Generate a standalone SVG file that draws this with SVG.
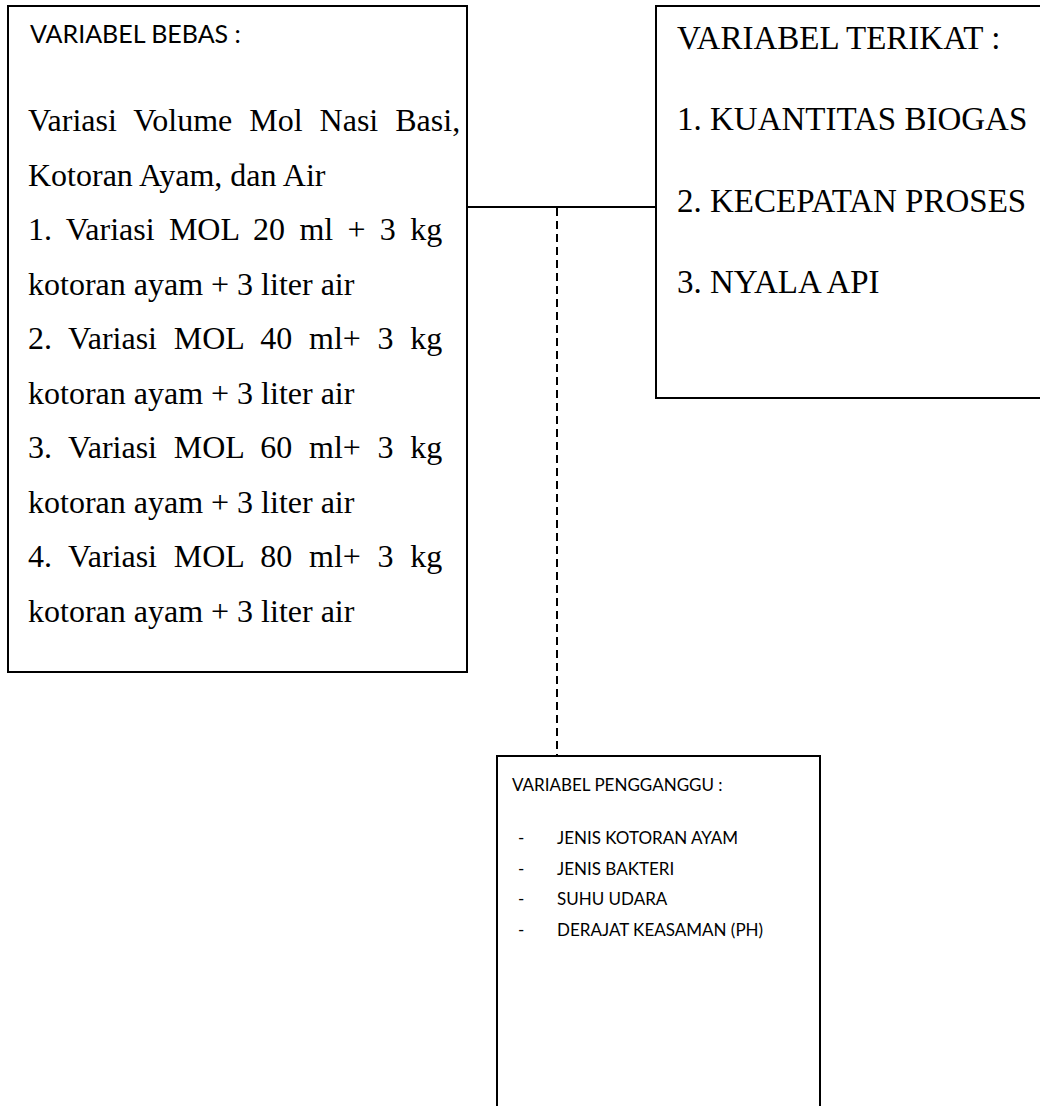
<svg xmlns="http://www.w3.org/2000/svg" width="1040" height="1106" viewBox="0 0 1040 1106">
<style>
.box{fill:#fff;stroke:#000;stroke-width:2}
.serif{font-family:"Liberation Serif","Times New Roman",serif;font-size:32px;fill:#000}
.serif2{font-family:"Liberation Serif","Times New Roman",serif;font-size:33px;fill:#000}
.sans{font-family:Lato,"Open Sans",sans-serif;fill:#000}
.small{font-size:17px}
.conn{stroke:#000;stroke-width:2;fill:none}
.dash{stroke:#000;stroke-width:2;fill:none;stroke-dasharray:8 5}
</style>
<rect width="1040" height="1106" fill="#fff"/>
<g id="connectors">
<line class="conn" x1="467" y1="207" x2="656" y2="207"/>
<line class="dash" x1="557" y1="208" x2="557" y2="756"/>
</g>
<g id="variabel-bebas">
<rect class="box" x="8" y="6" width="459" height="666"/>
<text class="sans" x="30" y="43" font-size="25">VARIABEL BEBAS :</text>
<text class="serif" x="28" y="131" word-spacing="9">Variasi Volume Mol Nasi Basi,</text>
<text class="serif" x="28" y="185.5">Kotoran Ayam, dan Air</text>
<text class="serif" x="28" y="240" word-spacing="6.3">1. Variasi MOL 20 ml + 3 kg</text>
<text class="serif" x="28" y="294.5">kotoran ayam + 3 liter air</text>
<text class="serif" x="28" y="349" word-spacing="8.7">2. Variasi MOL 40 ml+ 3 kg</text>
<text class="serif" x="28" y="403.5">kotoran ayam + 3 liter air</text>
<text class="serif" x="28" y="458" word-spacing="8.7">3. Variasi MOL 60 ml+ 3 kg</text>
<text class="serif" x="28" y="512.5">kotoran ayam + 3 liter air</text>
<text class="serif" x="28" y="567" word-spacing="8.7">4. Variasi MOL 80 ml+ 3 kg</text>
<text class="serif" x="28" y="621.5">kotoran ayam + 3 liter air</text>
</g>
<g id="variabel-terikat">
<rect class="box" x="656" y="6" width="400" height="392"/>
<text class="serif2" x="677" y="49">VARIABEL TERIKAT :</text>
<text class="serif2" x="677" y="130">1. KUANTITAS BIOGAS</text>
<text class="serif2" x="677" y="212">2. KECEPATAN PROSES</text>
<text class="serif2" x="677" y="293">3. NYALA API</text>
</g>
<g id="variabel-pengganggu">
<path class="box" d="M497 1110 V756 H820 V1110"/>
<text class="sans small" x="512" y="791">VARIABEL PENGGANGGU :</text>
<text class="sans small" x="518" y="844">-</text>
<text class="sans small" x="557" y="844">JENIS KOTORAN AYAM</text>
<text class="sans small" x="518" y="874.5">-</text>
<text class="sans small" x="557" y="874.5">JENIS BAKTERI</text>
<text class="sans small" x="518" y="905">-</text>
<text class="sans small" x="557" y="905">SUHU UDARA</text>
<text class="sans small" x="518" y="935.5">-</text>
<text class="sans small" x="557" y="935.5">DERAJAT KEASAMAN (PH)</text>
</g>
</svg>
